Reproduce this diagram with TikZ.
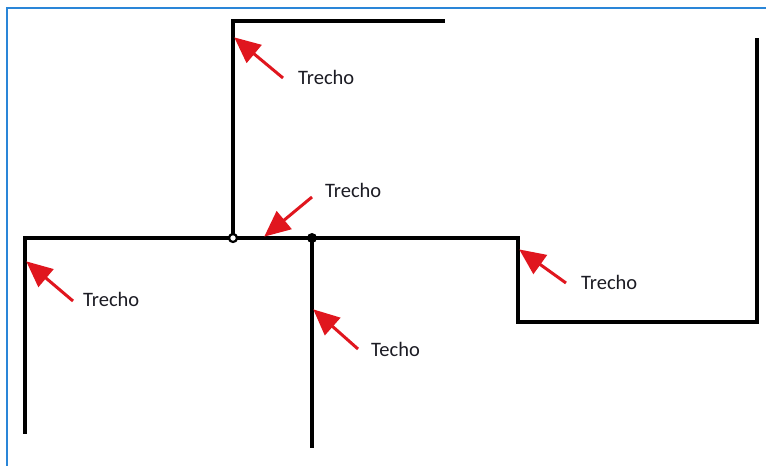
\documentclass[tikz,border=0pt]{standalone}
\usepackage{fontspec}
\setmainfont{Carlito}
\usetikzlibrary{arrows.meta}
\definecolor{framblue}{HTML}{2A86D8}
\definecolor{arrred}{HTML}{E0161E}
\definecolor{txt}{HTML}{1C1C24}
\tikzset{
  pipe/.style={line width=3.3pt, black, line cap=rect},
  redarrow/.style={line width=3pt, arrred, -{Triangle[length=26pt,width=23pt]}, shorten >=-1pt},
  lbl/.style={font=\fontsize{20.5}{22}\selectfont, text=txt, anchor=west, inner sep=0pt}
}
\begin{document}
\begin{tikzpicture}[x=1pt,y=-1pt]
\useasboundingbox (0,0) rectangle (766,466);
\fill[white] (0,0) rectangle (766,466);
% blue frame
\draw[framblue, line width=1.6pt] (7,466) -- (7,8) -- (766,8);
% pipes
\coordinate (topR) at (443,21);
\coordinate (topL) at (233,21);
\coordinate (j1) at (233,238);
\coordinate (j2) at (312,238);
\coordinate (mL) at (25,238);
\coordinate (mR) at (518,238);
\coordinate (lB) at (25,432);
\coordinate (cB) at (312,446);
\coordinate (bL) at (518,322);
\coordinate (bR) at (757,322);
\coordinate (rT) at (757,40);
\draw[pipe] (topR) -- (topL) -- (j1);
\draw[pipe] (lB) -- (mL) -- (mR) -- (bL) -- (bR) -- (rT);
\draw[pipe] (j2) -- (cB);
\node[circle, draw=black, fill=white, line width=2.2pt, minimum size=8pt, inner sep=0pt] (d1) at (j1) {};
\node[circle, fill=black, minimum size=10pt, inner sep=0pt] (d2) at (j2) {};
% arrow tips and tails
\coordinate (t1) at (235,38);  \coordinate (s1) at (283,78);
\coordinate (t2) at (265,236); \coordinate (s2) at (312,197);
\coordinate (t3) at (27,262);  \coordinate (s3) at (73,301);
\coordinate (t4) at (314,310); \coordinate (s4) at (358,349);
\coordinate (t5) at (520,250); \coordinate (s5) at (566,283);
\draw[redarrow] (s1) -- (t1);
\draw[redarrow] (s2) -- (t2);
\draw[redarrow] (s3) -- (t3);
\draw[redarrow] (s4) -- (t4);
\draw[redarrow] (s5) -- (t5);
% labels
\node[lbl] (l1) at (298,77) {Trecho};
\node[lbl] (l2) at (325,190) {Trecho};
\node[lbl] (l3) at (83,299) {Trecho};
\node[lbl] (l4) at (371,349) {Techo};
\node[lbl] (l5) at (581,282) {Trecho};
\end{tikzpicture}
\end{document}
